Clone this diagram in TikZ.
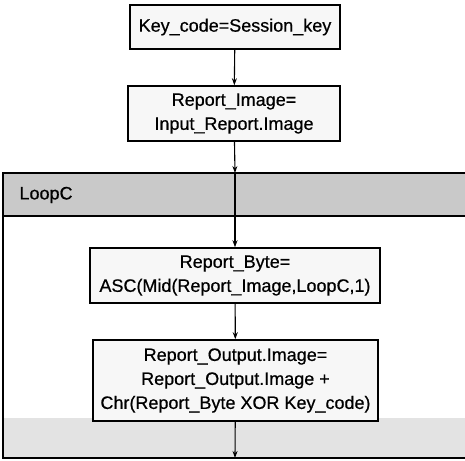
\documentclass[tikz,border=0pt]{standalone}
\usepackage{fontspec}
\setmainfont{Liberation Sans}[FakeBold=0.6]
\usetikzlibrary{arrows.meta}

\tikzset{
	stepbox/.style={draw, line width=1.5pt, fill=gray!6, align=center, inner sep=0pt,
		font=\fontsize{18}{24}\selectfont},
	flow/.style={line width=1.1pt, -{Stealth[length=7pt,width=5pt]}},
	frameline/.style={line width=1.8pt}
}

\begin{document}
\begin{tikzpicture}[x=1pt,y=-1pt]
		\useasboundingbox (0,0) rectangle (465,460);
		\fill[gray!42](3,173) rectangle (465,216);
		\fill[gray!22](3,418) rectangle (465,458);
		\draw[frameline](465,173) -- (3,173) -- (3,458) -- (465,458);
		\draw[frameline](3,216) -- (465,216);
		\node[anchor=west, font=\fontsize{18}{24}\selectfont] (looplabel) at (16,195) {LoopC};
		\coordinate (looptop) at (235,173);
		\coordinate (loopend) at (235,458);
		\node[stepbox, minimum width=210, minimum height=44] (keycode) at (235,27) {Key\_code=Session\_key};
		\node[stepbox, minimum width=212, minimum height=55] (image) at (234,113.5) {Report\_Image=\\Input\_Report.Image};
		\node[stepbox, minimum width=290, minimum height=55] (byte) at (235,275.5) {Report\_Byte=\\ASC(Mid(Report\_Image,LoopC,1)};
		\node[stepbox, minimum width=285, minimum height=81] (output) at (235.5,380.5) {Report\_Output.Image=\\Report\_Output.Image +\\Chr(Report\_Byte XOR Key\_code)};
		\draw[flow](keycode) -- (image);
		\draw[flow](image) -- (looptop);
		\draw[flow](looptop) -- (byte);
		\draw[flow](byte) -- (output);
		\draw[flow](output) -- (loopend);
	\end{tikzpicture}
\end{document}
